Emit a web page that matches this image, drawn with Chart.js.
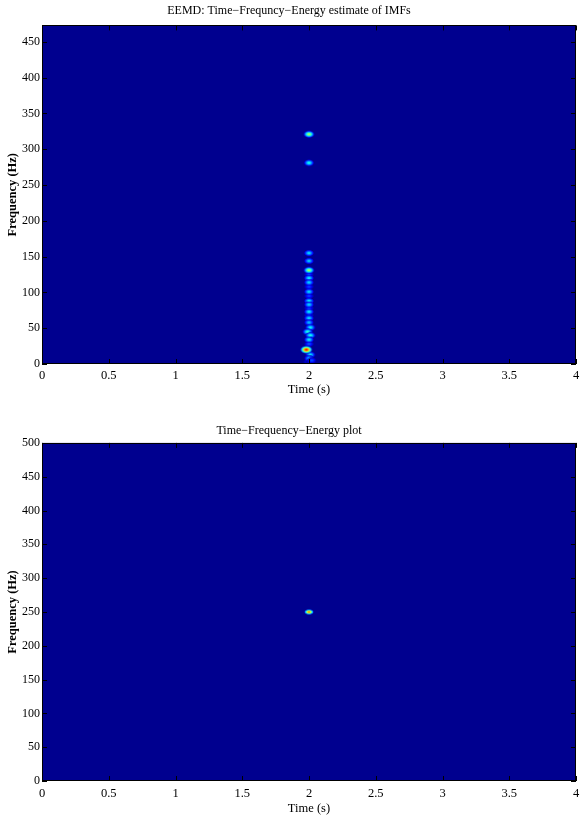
<!DOCTYPE html>
<html>
<head>
<meta charset="utf-8">
<script src="https://cdn.jsdelivr.net/npm/chart.js@4.4.0/dist/chart.umd.min.js"></script>
<style>
    body { margin: 0; background: #fff; }
    .panel { position: absolute; left: 0; width: 581px; }
    #top-panel { top: 0; height: 400px; }
    #bottom-panel { top: 400px; height: 423px; }
</style>
</head>
<body>
<div class="panel" id="top-panel"><canvas id="eemd-chart"></canvas></div>
<div class="panel" id="bottom-panel"><canvas id="tfe-chart"></canvas></div>
<script>
// --- DATA ---
// top panel: EEMD energy spots, all near t = 2 s (faint haze spots first, bright ones last)
const eemdTime  = [2.00, 2.00, 2.00, 2.00, 2.00, 2.00, 1.99, 2.01,
                   2.00, 2.00, 2.00, 2.00, 2.00, 2.00, 2.00, 2.00, 2.00, 2.00, 2.00, 2.00, 2.00, 2.01, 1.99, 2.01, 2.00, 2.01, 2.00, 2.02, 1.98];
const eemdFreq  = [125, 108, 95, 78, 68, 28, 3, 3,
                   321, 281, 155, 144, 131, 120, 114, 101, 88, 83, 73, 64, 58, 51, 45, 40, 34, 13, 8, 5, 20];
const eemdLevel = [0.20, 0.20, 0.20, 0.20, 0.20, 0.22, 0.12, 0.12,
                   0.58, 0.42, 0.36, 0.34, 0.58, 0.38, 0.36, 0.36, 0.38, 0.36, 0.38, 0.36, 0.33, 0.40, 0.45, 0.42, 0.38, 0.38, 0.32, 0.22, 0.92];

// bottom panel: single spot
const tfeTime  = [2.00];
const tfeFreq  = [250];
const tfeLevel = [0.8];

const timeMax = 4;
const eemdFreqMax = 473;
const tfeFreqMax = 500;

const BG_LEVEL = 0.015;
const FONT = 'Liberation Serif, Times New Roman, serif';

// matlab "jet" colormap
function jet(v) {
    const c = x => Math.round(255 * Math.max(0, Math.min(1, x)));
    return [c(1.5 - Math.abs(4 * v - 3)), c(1.5 - Math.abs(4 * v - 2)), c(1.5 - Math.abs(4 * v - 1))];
}
const bgColor = 'rgb(' + jet(BG_LEVEL).join(',') + ')';

// small elliptical blob used as point style
function makeBlob(level, rx, ry) {
    const cv = document.createElement('canvas');
    cv.width = Math.ceil(rx * 2) + 1;
    cv.height = Math.ceil(ry * 2) + 1;
    const ctx = cv.getContext('2d');
    ctx.translate(cv.width / 2, cv.height / 2);
    ctx.scale(rx / ry, 1);
    const g = ctx.createRadialGradient(0, 0, 0, 0, 0, ry);
    for (let i = 0; i <= 6; i++) {
        const t = i / 6;
        const v = level + (BG_LEVEL - level) * Math.pow(t, 1.3);
        const [r, gg, b] = jet(v);
        g.addColorStop(t, `rgba(${r},${gg},${b},${i === 6 ? 0 : 1})`);
    }
    ctx.fillStyle = g;
    ctx.beginPath();
    ctx.arc(0, 0, ry, 0, Math.PI * 2);
    ctx.fill();
    return cv;
}

// background + box + inward ticks, matlab style
const framePlugin = {
    id: 'frame',
    beforeDatasetsDraw(chart) {
        const { ctx, chartArea: a } = chart;
        ctx.save();
        ctx.fillStyle = bgColor;
        ctx.fillRect(a.left, a.top, a.width, a.height);
        ctx.restore();
    },
    afterDatasetsDraw(chart) {
        const { ctx, chartArea: a, scales: { x, y } } = chart;
        ctx.save();
        ctx.strokeStyle = '#000';
        ctx.lineWidth = 1;
        ctx.beginPath();
        x.ticks.forEach(t => {
            const px = Math.round(x.getPixelForValue(t.value)) + 0.5;
            ctx.moveTo(px, a.bottom); ctx.lineTo(px, a.bottom - 5);
            ctx.moveTo(px, a.top); ctx.lineTo(px, a.top + 5);
        });
        y.ticks.forEach(t => {
            const py = Math.round(y.getPixelForValue(t.value)) + 0.5;
            ctx.moveTo(a.left, py); ctx.lineTo(a.left + 5, py);
            ctx.moveTo(a.right, py); ctx.lineTo(a.right - 5, py);
        });
        ctx.stroke();
        ctx.strokeRect(Math.round(a.left) + 0.5, Math.round(a.top) + 0.5, Math.round(a.width) - 1, Math.round(a.height) - 1);
        ctx.restore();
    }
};

function makeChart(id, opts) {
    const sprites = opts.level.map(l => makeBlob(l, opts.rx + 2 * l, opts.ry + 1.2 * l));
    return new Chart(document.getElementById(id), {
        type: 'scatter',
        data: {
            datasets: [{
                data: opts.time.map((t, i) => ({ x: t, y: opts.freq[i] })),
                pointStyle: ctx => sprites[ctx.dataIndex],
                pointRadius: 3
            }]
        },
        options: {
            responsive: true,
            maintainAspectRatio: false,
            animation: false,
            events: [],
            layout: { padding: { left: 0, right: 3, top: 0, bottom: 0 } },
            plugins: {
                legend: { display: false },
                tooltip: { enabled: false },
                title: {
                    display: true,
                    text: opts.title,
                    color: '#000',
                    font: { family: FONT, size: 12, weight: 'normal' },
                    padding: opts.titlePad
                }
            },
            scales: {
                x: {
                    type: 'linear',
                    min: 0,
                    max: timeMax,
                    grid: { display: false, drawTicks: false },
                    border: { display: false },
                    ticks: {
                        stepSize: 0.5,
                        color: '#000',
                        padding: opts.xTickPad,
                        maxRotation: 0,
                        autoSkip: false,
                        font: { family: FONT, size: 12.5 },
                        callback: v => String(v)
                    },
                    title: {
                        display: true,
                        text: 'Time (s)',
                        color: '#000',
                        font: { family: FONT, size: 12.5 },
                        padding: { top: 0, bottom: opts.xTitlePad }
                    },
                    afterFit: s => { s.height = opts.xHeight; s.paddingLeft = 0; s.paddingRight = 0; }
                },
                y: {
                    type: 'linear',
                    min: 0,
                    max: opts.yMax,
                    grid: { display: false, drawTicks: false },
                    border: { display: false },
                    ticks: {
                        stepSize: 50,
                        includeBounds: false,
                        color: '#000',
                        padding: 2,
                        font: { family: FONT, size: 12 }
                    },
                    title: {
                        display: true,
                        text: 'Frequency (Hz)',
                        color: '#000',
                        font: { family: FONT, size: 12.5, weight: 'bold' },
                        padding: { top: 5, bottom: 0 }
                    },
                    afterFit: s => { s.width = 42; s.paddingTop = 0; s.paddingBottom = 0; }
                }
            }
        },
        plugins: [framePlugin]
    });
}

makeChart('eemd-chart', {
    title: 'EEMD: Time\u2212Frequncy\u2212Energy estimate of IMFs',
    time: eemdTime, freq: eemdFreq, level: eemdLevel,
    yMax: eemdFreqMax, rx: 4.5, ry: 3,
    titlePad: { top: 3.5, bottom: 7.5 },
    xHeight: 36, xTickPad: 4, xTitlePad: 3
});

makeChart('tfe-chart', {
    title: 'Time\u2212Frequency\u2212Energy plot',
    time: tfeTime, freq: tfeFreq, level: tfeLevel,
    yMax: tfeFreqMax, rx: 3.5, ry: 1.8,
    titlePad: { top: 23.5, bottom: 5 },
    xHeight: 42, xTickPad: 5, xTitlePad: 7
});
</script>
</body>
</html>
